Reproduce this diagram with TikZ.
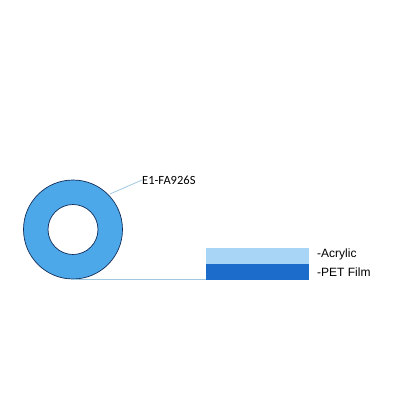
\documentclass[tikz,border=0pt]{standalone}
\usepackage{fontspec}
\setmainfont{Liberation Sans}
\newfontfamily\calib{Carlito}
\definecolor{ringblue}{RGB}{76,168,232}
\definecolor{ringedge}{RGB}{20,45,90}
\definecolor{acryl}{RGB}{168,212,245}
\definecolor{petblue}{RGB}{28,108,204}
\definecolor{leader}{RGB}{160,200,225}
\begin{document}
\begin{tikzpicture}[x=1pt,y=-1pt,
  lab/.style={anchor=west,inner sep=0pt,font=\fontsize{12}{12}\selectfont},
  leaderline/.style={draw=leader,line width=0.8pt}]
\useasboundingbox (0,0) rectangle (400,400);
\fill[ringblue,draw=ringedge,line width=0.7pt,even odd rule] (73,229.5) circle (49.5) (73,229.5) circle (25);
\coordinate (bot) at (73,279);
\coordinate (lt) at (110,194);
\node[inner sep=0pt,anchor=west,font=\calib\fontsize{12.5}{12.5}\selectfont] (e1) at (142,180) {E1-FA926S};
\draw[leaderline] (lt) -- (e1.west);
\node[draw=none,fill=acryl,minimum width=103,minimum height=16,inner sep=0pt,anchor=north west] (ac) at (206,248) {};
\node[draw=none,fill=petblue,minimum width=103,minimum height=16,inner sep=0pt,anchor=north west] (pet) at (206,264) {};
\draw[leaderline] (bot) -- (bot -| pet.west);
\node[lab] (la) at (317,254) {-Acrylic};
\node[lab] (lp) at (317,272) {-PET Film};
\end{tikzpicture}
\end{document}
